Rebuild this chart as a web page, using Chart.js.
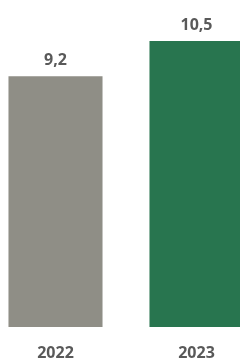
<!DOCTYPE html>
<html>
<head>
<meta charset="utf-8">
<script src="https://cdn.jsdelivr.net/npm/chart.js@4"></script>
<style>
  html, body { margin: 0; padding: 0; background: #fff; overflow: hidden; }
  #wrap { position: relative; width: 282px; height: 359px; margin-left: -15px; }
</style>
</head>
<body>
<div id="wrap"><canvas id="myChart"></canvas></div>
<script>
(function () {
    "use strict";

    var years = ['2022', '2023'];
    var values = [9.2, 10.5];
    var barColors = ['#8f8e86', '#28754f'];
    var yMax = 12;

    // value labels above each bar, decimal comma
    var valueLabels = {
        id: 'valueLabels',
        afterDatasetsDraw: function (chart) {
            var ctx = chart.ctx;
            var meta = chart.getDatasetMeta(0);
            ctx.save();
            ctx.font = 'bold 16px "Open Sans", sans-serif';
            ctx.fillStyle = '#595959';
            ctx.textAlign = 'center';
            ctx.textBaseline = 'alphabetic';
            meta.data.forEach(function (bar, i) {
                var txt = values[i].toFixed(1).replace('.', ',');
                ctx.fillText(txt, bar.x, bar.y - 11);
            });
            ctx.restore();
        }
    };

    var ctx = document.getElementById('myChart').getContext('2d');
    var chart = new Chart(ctx, {
        type: 'bar',
        data: {
            labels: years,
            datasets: [{
                data: values,
                backgroundColor: barColors,
                borderWidth: 0,
                barPercentage: 1,
                categoryPercentage: 0.667
            }]
        },
        options: {
            responsive: true,
            maintainAspectRatio: false,
            animation: false,
            layout: { padding: 0 },
            plugins: {
                legend: { display: false },
                tooltip: { enabled: false }
            },
            scales: {
                x: {
                    grid: { display: false, drawTicks: false },
                    border: { display: false },
                    ticks: {
                        color: '#595959',
                        padding: 17,
                        font: { family: '"Open Sans", sans-serif', size: 16, weight: 'bold' }
                    },
                    afterFit: function (scale) { scale.height = 32; }
                },
                y: {
                    display: false,
                    min: 0,
                    max: yMax
                }
            }
        },
        plugins: [valueLabels]
    });
})();
</script>
</body>
</html>
